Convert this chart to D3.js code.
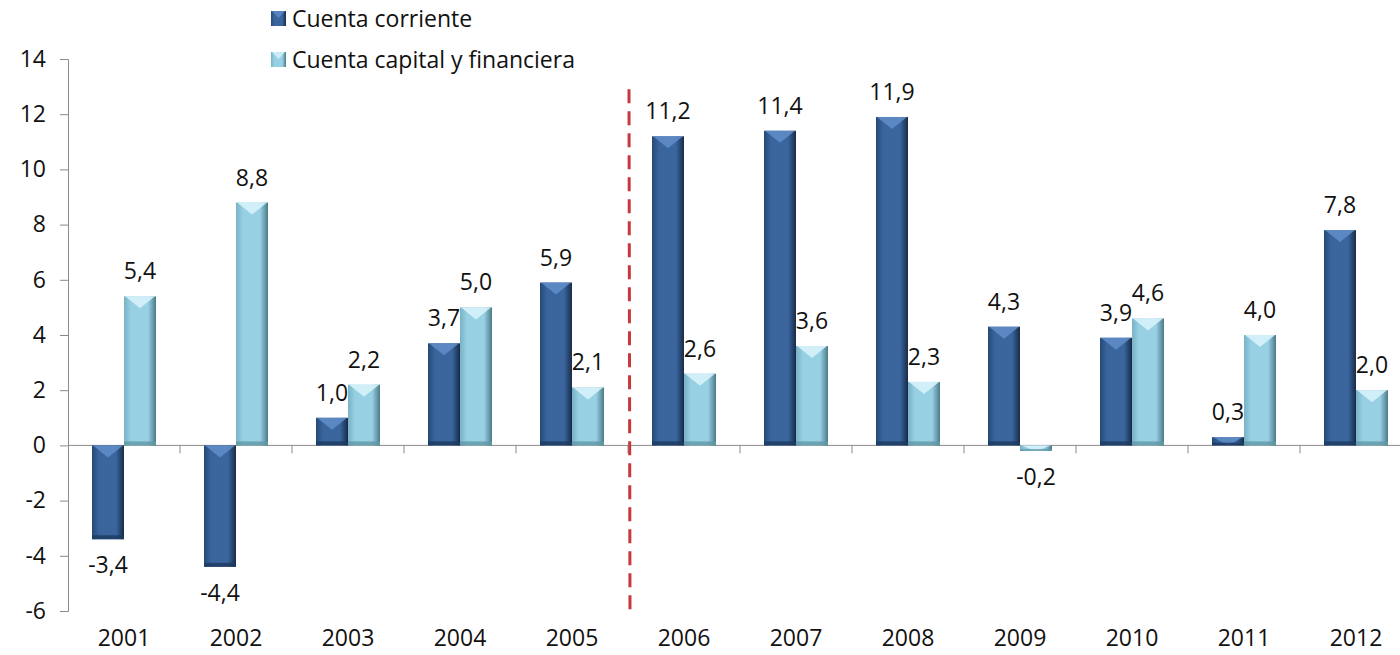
<!DOCTYPE html>
<html>
<head>
<meta charset="utf-8">
<script src="https://cdn.jsdelivr.net/npm/d3@7"></script>
<style>
  body { margin: 0; background: #fff; }
  text { font-family: "Open Sans", sans-serif; fill: #111; }
</style>
</head>
<body>
<script>
// years, both series (% del PIB), y ticks
const years = ["2001","2002","2003","2004","2005","2006","2007","2008","2009","2010","2011","2012"];
const corriente = [-3.4, -4.4, 1.0, 3.7, 5.9, 11.2, 11.4, 11.9, 4.3, 3.9, 0.3, 7.8];
const capital = [5.4, 8.8, 2.2, 5.0, 2.1, 2.6, 3.6, 2.3, -0.2, 4.6, 4.0, 2.0];
const yTicks = [-6, -4, -2, 0, 2, 4, 6, 8, 10, 12, 14];
const seriesNames = ["Cuenta corriente", "Cuenta capital y financiera"];
const breakYear = "2006";

const W = 1400, H = 655;
const FS = "23px";
const svg = d3.select("body").append("svg").attr("width", W).attr("height", H);

const x = d3.scaleBand().domain(years).range([68, 1412]);
const x1 = d3.scaleBand().domain([0, 1]).range([24, 88]);
const y = d3.scaleLinear().domain([-6, 14]).range([611, 59]);

// comma decimals, plain hyphen for minus
const fmt = v => (v < 0 ? "-" : "") + d3.format(".1f")(Math.abs(v)).replace(".", ",");

// gradients for the bevelled bars
const defs = svg.append("defs");
const looks = [
  {id: "gDark", stops: ["#27497a", "#3a649c", "#3b659e", "#172b48"], cap: "#5f8cc6", foot: "#1d3a60"},
  {id: "gLight", stops: ["#78b2c4", "#97d0e3", "#98d1e4", "#4b7a89"], cap: "#d6f2fa", foot: "#5f98a8"}
];
looks.forEach(l => {
  const g = defs.append("linearGradient").attr("id", l.id).attr("x1", 0).attr("x2", 1).attr("y1", 0).attr("y2", 0);
  [0, 0.22, 0.75, 1].forEach((o, i) => g.append("stop").attr("offset", o).attr("stop-color", l.stops[i]));
});

// y axis
const yAxis = svg.append("g").attr("transform", "translate(68,0)")
  .call(d3.axisLeft(y).tickValues(yTicks).tickSize(8).tickPadding(14).tickFormat(d => d < 0 ? "-" + Math.abs(d) : d));
yAxis.select(".domain").attr("stroke", "#8a8a8a");
yAxis.selectAll(".tick line").attr("stroke", "#8a8a8a");
yAxis.selectAll(".tick text").style("font-size", FS).attr("fill", "#111");

// x axis line at zero with ticks on band boundaries
svg.append("line").attr("x1", 68).attr("x2", W).attr("y1", y(0)).attr("y2", y(0)).attr("stroke", "#8a8a8a");
svg.selectAll(".xtick").data(years.slice(1)).enter().append("line")
  .attr("x1", d => x(d)).attr("x2", d => x(d))
  .attr("y1", y(0)).attr("y2", y(0) + 8).attr("stroke", "#8a8a8a");

svg.selectAll(".xlab").data(years).enter().append("text")
  .attr("x", d => x(d) + x.bandwidth() / 2).attr("y", 646)
  .attr("text-anchor", "middle").style("font-size", FS).text(d => d);

// bars
const bw = x1.bandwidth();
[corriente, capital].forEach((vals, s) => {
  const look = looks[s];
  const g = svg.append("g");
  vals.forEach((v, i) => {
    const bx = x(years[i]) + x1(s);
    const top = y(Math.max(v, 0)), bot = y(Math.min(v, 0));
    const h = bot - top;
    g.append("rect").attr("x", bx).attr("y", top).attr("width", bw).attr("height", h)
      .attr("fill", `url(#${look.id})`);
    const b = Math.min(12, h);
    g.append("path")
      .attr("d", `M${bx + 1},${top} L${bx + bw - 1},${top} L${bx + bw / 2},${top + b} Z`)
      .attr("fill", look.cap).attr("opacity", 0.9);
    const f = Math.min(4, h / 3);
    g.append("rect").attr("x", bx).attr("y", bot - f).attr("width", bw).attr("height", f)
      .attr("fill", look.foot).attr("opacity", 0.8);
    g.append("text")
      .attr("x", bx + bw / 2)
      .attr("y", v >= 0 ? y(v) - 17 : y(v) + 34)
      .attr("text-anchor", "middle").style("font-size", FS)
      .text(fmt(v));
  });
});

// red dashed separator
svg.append("line")
  .attr("x1", x(breakYear) + 1).attr("x2", x(breakYear) + 2)
  .attr("y1", y(12.9)).attr("y2", y(-6.2))
  .attr("stroke", "#c8383a").attr("stroke-width", 3).attr("stroke-dasharray", "14,8");

// legend
const leg = svg.append("g");
seriesNames.forEach((n, i) => {
  const ly = 11 + i * 41;
  leg.append("rect").attr("x", 271).attr("y", ly).attr("width", 15).attr("height", 15)
    .attr("fill", `url(#${looks[i].id})`);
  leg.append("path").attr("d", `M272,${ly} L285,${ly} L278.5,${ly + 7} Z`).attr("fill", looks[i].cap).attr("opacity", 0.8);
  leg.append("text").attr("x", 292).attr("y", ly + 16).style("font-size", FS).text(n);
});
</script>
</body>
</html>
